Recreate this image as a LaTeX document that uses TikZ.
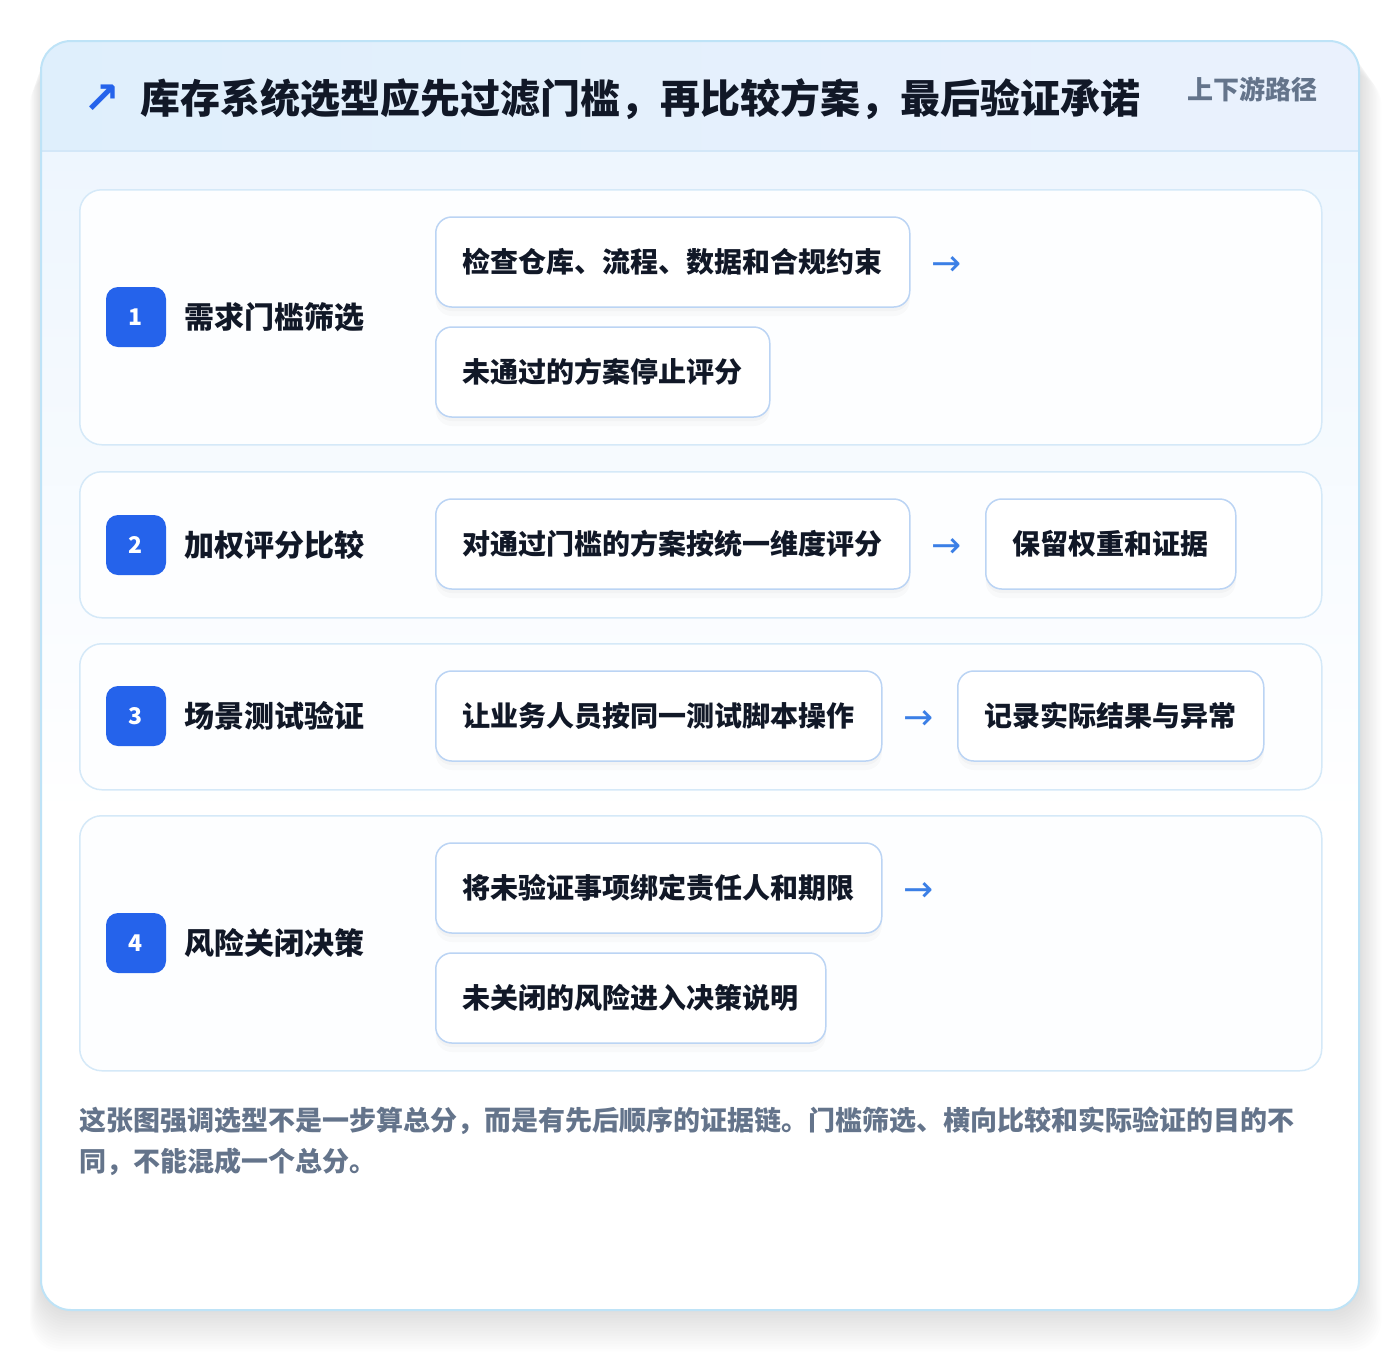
\documentclass[tikz,border=0pt]{standalone}
\usepackage{fontspec}
\newfontfamily\cjk{Noto Sans CJK SC}
\newfontfamily\dejavu{DejaVu Sans}
\usetikzlibrary{shadows}
\definecolor{cardborder}{HTML}{BEE3F7}
\definecolor{hdrL}{HTML}{DFEFFC}
\definecolor{hdrR}{HTML}{EAF1FD}
\definecolor{hdrline}{HTML}{D3E7F8}
\definecolor{bodytop}{HTML}{EEF6FE}
\definecolor{panelborder}{HTML}{D5E9F8}
\definecolor{panelfill}{HTML}{FDFEFF}
\definecolor{boxborder}{HTML}{BBD4F4}
\definecolor{badgeblue}{HTML}{2563EB}
\definecolor{arrowblue}{HTML}{3B7FE6}
\definecolor{ink}{HTML}{111827}
\definecolor{muted}{HTML}{64748B}
\tikzset{
  panelbox/.style={draw=panelborder, line width=1.5pt, rounded corners=22pt, fill=panelfill,
    anchor=north west, minimum width=1242pt, inner sep=0pt},
  badge/.style={fill=badgeblue, rounded corners=12pt, minimum size=60pt, inner sep=0pt,
    text=white, font=\cjk\bfseries\fontsize{23}{23}\selectfont},
  steplabel/.style={anchor=west, inner sep=0pt, text=ink, font=\cjk\bfseries\fontsize{30}{30}\selectfont},
  itembox/.style={draw=boxborder, line width=1.5pt, rounded corners=16pt, fill=white,
    minimum height=90pt, inner xsep=27pt, inner ysep=0pt, anchor=west, text=ink,
    font=\cjk\bfseries\fontsize{28}{28}\selectfont,
    drop shadow={shadow xshift=0pt, shadow yshift=-4pt, opacity=0.025, fill=black},
    drop shadow={shadow xshift=0pt, shadow yshift=-9pt, opacity=0.02, fill=black}},
  arrowtxt/.style={text=arrowblue, inner sep=0pt, font=\dejavu\fontsize{36}{36}\selectfont}
}
\begin{document}
\begin{tikzpicture}[x=1pt,y=-1pt]
\useasboundingbox (0,0) rectangle (1400,1352);
\fill[white] (0,0) rectangle (1400,1352);
% soft shadow of the card
\foreach \i in {1,...,16}{
  \fill[black, opacity=0.006, rounded corners=32pt]
    ({41-\i*0.7},{41+\i*2.0}) rectangle ({1359+\i*1.4},{1310+\i*2.6});
}
% card
\fill[white, rounded corners=30pt] (41,41) rectangle (1359,1310);
\begin{scope}
  \clip[rounded corners=30pt] (41,41) rectangle (1359,1310);
  \shade[top color=bodytop, bottom color=white] (41,151) rectangle (1359,820);
  \fill[white] (41,819) rectangle (1359,1310);
  \shade[left color=hdrL, right color=hdrR] (41,41) rectangle (1359,151);
  \draw[hdrline, line width=1.5pt] (41,151) -- (1359,151);
\end{scope}
\draw[cardborder, line width=2pt, rounded corners=30pt] (41,41) rectangle (1359,1310);

% header
\node[inner sep=0pt, text=badgeblue, font=\dejavu\bfseries\fontsize{44}{44}\selectfont] (icon) at (102,99) {↗};
\node[anchor=west, inner sep=0pt, text=ink, font=\cjk\bfseries\fontsize{40}{40}\selectfont] (title) at (140,99)
  {库存系统选型应先过滤门槛，再比较方案，最后验证承诺};
\node[anchor=east, inner sep=0pt, text=muted, font=\cjk\bfseries\fontsize{26}{26}\selectfont] (route) at (1318,89) {上下游路径};

% panels
\node[panelbox, minimum height=255pt] (p1) at (79,189) {};
\node[panelbox, minimum height=146pt] (p2) at (79,471) {};
\node[panelbox, minimum height=146pt] (p3) at (79,643) {};
\node[panelbox, minimum height=255pt] (p4) at (79,815) {};

% step 1
\node[badge] (b1) at (136,317) {1};
\node[steplabel] (l1) at (184,317) {需求门槛筛选};
\node[itembox] (s1a) at (435,262) {检查仓库、流程、数据和合规约束};
\node[itembox] (s1b) at (435,372) {未通过的方案停止评分};
\node[arrowtxt] (a1) at (947,266) {→};

% step 2
\node[badge] (b2) at (136,545) {2};
\node[steplabel] (l2) at (184,545) {加权评分比较};
\node[itembox] (s2a) at (435,544) {对通过门槛的方案按统一维度评分};
\node[arrowtxt] (a2) at (947,548) {→};
\node[itembox] (s2b) at (985,544) {保留权重和证据};

% step 3
\node[badge] (b3) at (136,716) {3};
\node[steplabel] (l3) at (184,716) {场景测试验证};
\node[itembox] (s3a) at (435,716) {让业务人员按同一测试脚本操作};
\node[arrowtxt] (a3) at (919,720) {→};
\node[itembox] (s3b) at (957,716) {记录实际结果与异常};

% step 4
\node[badge] (b4) at (136,943) {4};
\node[steplabel] (l4) at (184,943) {风险关闭决策};
\node[itembox] (s4a) at (435,888) {将未验证事项绑定责任人和期限};
\node[itembox] (s4b) at (435,998) {未关闭的风险进入决策说明};
\node[arrowtxt] (a4) at (919,892) {→};

% footer
\node[anchor=north west, inner sep=0pt, align=left, text=muted,
  font=\cjk\bfseries\fontsize{27}{41}\selectfont] (note) at (79,1107)
  {这张图强调选型不是一步算总分，而是有先后顺序的证据链。门槛筛选、横向比较和实际验证的目的不\\同，不能混成一个总分。};
\end{tikzpicture}
\end{document}
